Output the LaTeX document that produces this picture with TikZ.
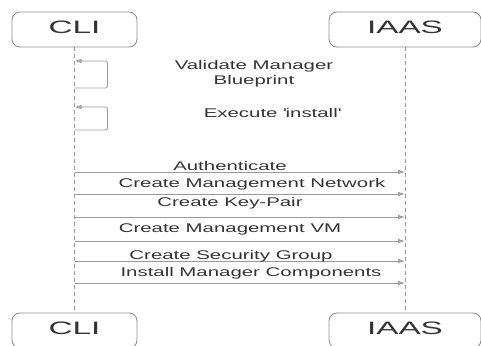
\documentclass[tikz,border=0pt]{standalone}
\usepackage{fontspec}
\usepackage{graphicx}
\setmainfont{Liberation Sans}
\newfontfamily\msgfont[FakeStretch=1.62]{Liberation Sans}
\newfontfamily\boxfont[FakeStretch=1.85]{Liberation Sans}
\usetikzlibrary{arrows.meta}
\definecolor{linegray}{HTML}{9A9A9A}
\definecolor{boxgray}{HTML}{8A8A8A}
\definecolor{txt}{HTML}{333333}
\definecolor{headgray}{HTML}{B4B4B4}
\begin{document}
\begin{tikzpicture}[x=1pt,y=-1pt,
  actor/.style={draw=boxgray, line width=0.8pt, rounded corners=8pt,
    minimum height=35pt, inner sep=0pt, text depth=5pt,
    font=\boxfont\fontsize{18}{20}\selectfont, text=txt},
  lifeline/.style={draw=linegray, line width=0.8pt, dash pattern=on 4pt off 3pt},
  msg/.style={draw=linegray, line width=0.8pt,
    -{Latex[length=7pt,width=4.5pt,fill=headgray]}},
  selfmsg/.style={msg, rounded corners=2pt},
  lbl/.style={anchor=base, inner sep=0pt, text=txt,
    font=\msgfont\fontsize{12.6}{15}\selectfont, align=center}
]
\useasboundingbox (0,0) rectangle (481,345);
\clip (0,0) rectangle (481,345);
% actors
\node[actor, minimum width=125pt] (clitop) at (74.5,29.5) {CLI};
\node[actor, minimum width=152pt] (iaastop) at (405,29.5) {IAAS};
\node[actor, minimum width=125pt] (clibot) at (74.5,330.5) {CLI};
\node[actor, minimum width=152pt] (iaasbot) at (405,330.5) {IAAS};
% lifelines
\draw[lifeline] (clitop.south) -- (clibot.north);
\draw[lifeline] (iaastop.south) -- (iaasbot.north);
% self messages
\coordinate (vb) at (74.5,88);
\coordinate (vt) at (74.5,61);
\draw[selfmsg] (vb) -- ++(33,0) |- (vt);
\node[lbl] (vlbl) at (254,84.3) {Validate Manager\\Blueprint};
\coordinate (eb) at (74.5,130);
\coordinate (et) at (74.5,107);
\draw[selfmsg] (eb) -- ++(33,0) |- (et);
\node[lbl] (elbl) at (272,117.3) {Execute \textquotesingle install\textquotesingle};
% messages
\foreach \i/\y/\cx/\by/\t in {
  1/172/230/170.5/Authenticate,
  2/194/252/187.3/Create Management Network,
  3/217/230/206/Create Key-Pair,
  4/241/230/232.7/Create Management VM,
  5/261/231/259.3/Create Security Group,
  6/283/251/276.7/Install Manager Components}{
  \coordinate (s\i) at (74.5,\y);
  \coordinate (e\i) at (405,\y);
  \draw[msg] (s\i) -- (e\i);
  \node[lbl] (m\i) at (\cx,\by) {\t};
}
\end{tikzpicture}
\end{document}
